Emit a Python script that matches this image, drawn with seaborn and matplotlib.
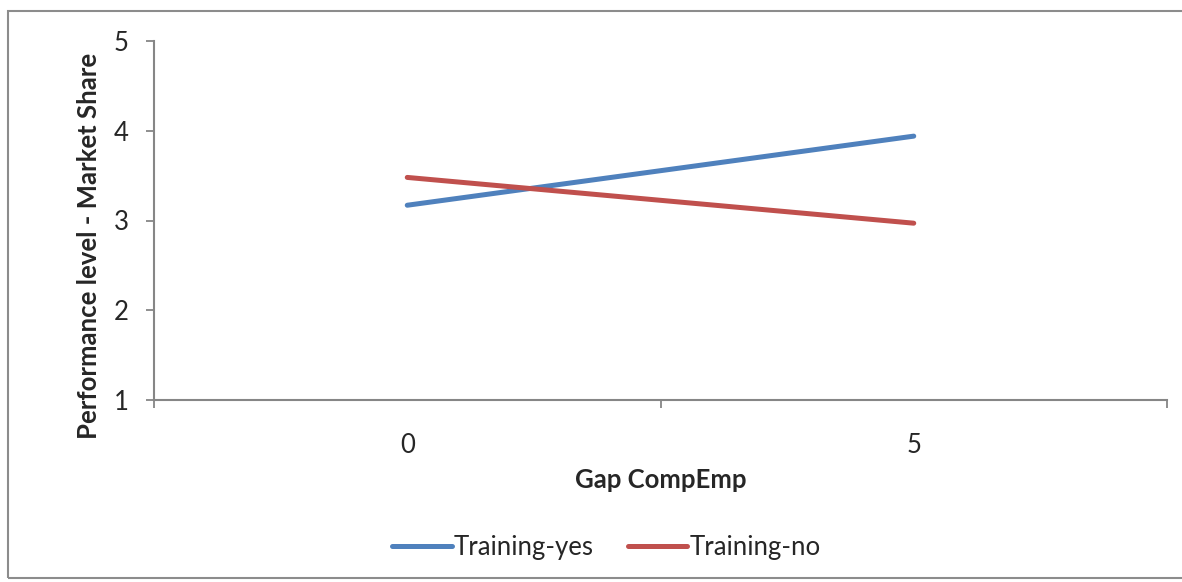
import pandas as pd
import matplotlib.pyplot as plt
import seaborn as sns
from matplotlib.patches import Rectangle

# ----------------------------
# Data
# ----------------------------

gap_levels = ["0", "5"]
training_yes = [3.17, 3.94]
training_no = [3.48, 2.97]
series_names = ["Training-yes", "Training-no"]

df = pd.DataFrame({
    "Gap CompEmp": gap_levels * 2,
    "value": training_yes + training_no,
    "series": [series_names[0]] * 2 + [series_names[1]] * 2,
})

# ----------------------------
# Style
# ----------------------------

sns.set_style("white")
plt.rcParams['font.family'] = ['Lato', 'DejaVu Sans']
axis_grey = "#868686"
text_col = "#262626"
fsize = 18.5
palette = {"Training-yes": "#4F81BD", "Training-no": "#C0504D"}

fig = plt.figure(figsize=(11.82, 5.82), dpi=100)
ax = fig.add_axes([154 / 1182, 1 - 400 / 582, (1167 - 154) / 1182, (400 - 41) / 582])

sns.lineplot(data=df, x="Gap CompEmp", y="value", hue="series",
             palette=palette, linewidth=3.6, sort=False, ax=ax,
             solid_capstyle="round")

# ----------------------------
# Axes
# ----------------------------

ax.set_xlim(-0.5, 1.5)
ax.set_ylim(1, 5)
ax.set_yticks([1, 2, 3, 4, 5])
ax.set_xticks([0, 1])
ax.set_xticklabels(gap_levels)
ax.set_xticks([-0.5, 0.5, 1.5], minor=True)

for side in ["top", "right"]:
    ax.spines[side].set_visible(False)
for side in ["left", "bottom"]:
    ax.spines[side].set_color(axis_grey)
    ax.spines[side].set_linewidth(1.5)

ax.tick_params(axis="y", which="major", length=6, width=1.3, color=axis_grey,
               direction="out", pad=12, labelsize=fsize, labelcolor=text_col, left=True)
ax.tick_params(axis="x", which="major", length=0, pad=24,
               labelsize=fsize, labelcolor=text_col)
ax.tick_params(axis="x", which="minor", length=6, width=1.3, color=axis_grey,
               direction="out", bottom=True)

ax.set_ylabel("Performance level - Market Share", fontsize=fsize,
              fontweight="bold", color=text_col)
ax.yaxis.set_label_coords(-0.052, 0.43)
ax.set_xlabel("Gap CompEmp", fontsize=fsize, fontweight="bold", color=text_col)
ax.xaxis.set_label_coords(0.5, -0.19)

# ----------------------------
# Legend
# ----------------------------

handles, labels = ax.get_legend_handles_labels()
ax.legend_.remove()
leg = fig.legend(handles, labels, loc="center", bbox_to_anchor=(0.513, 0.06),
                 ncol=2, frameon=False, fontsize=fsize, handlelength=2.3,
                 handletextpad=0.1, columnspacing=1.3)
for t in leg.get_texts():
    t.set_color(text_col)
for h in leg.legend_handles:
    h.set_linewidth(3.6)

# chart frame
fig.patches.append(Rectangle((8 / 1182, 4 / 582), 1.2, 1 - 15 / 582,
                             transform=fig.transFigure, fill=False,
                             edgecolor="#8c8c8c", linewidth=1.5))

plt.savefig("out.png", dpi=100)
plt.close()
